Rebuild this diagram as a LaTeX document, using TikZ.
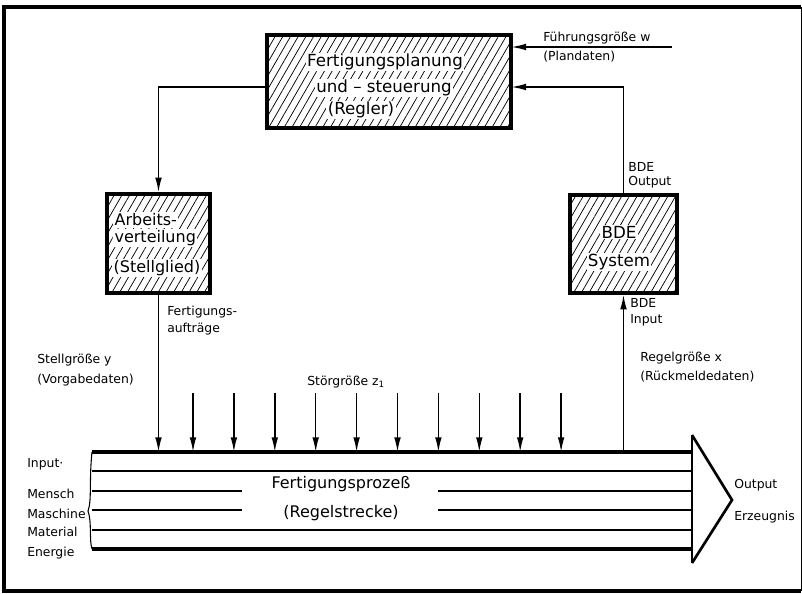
\documentclass[tikz,border=0pt]{standalone}
\usepackage{fontspec}
\setmainfont{DejaVu Sans}
\usetikzlibrary{arrows.meta,patterns.meta}

\begin{document}
\begin{tikzpicture}[x=0.75pt,y=-0.75pt,
  conn/.style={line width=1.1pt,-{Latex[length=11pt,width=5pt]}},
  hatchbox/.style={draw,line width=2.6pt,inner sep=0pt,
    pattern={Lines[angle=60,distance=5pt,line width=0.55pt]}},
  boxtext/.style={fill=white,inner sep=1pt,font=\fontsize{12.5}{14}\selectfont},
  lbl/.style={anchor=west,inner sep=0pt,font=\fontsize{9.3}{11}\selectfont},
  flow/.style={line width=0.8pt},
  rim/.style={line width=2.4pt}
]
  \useasboundingbox (0,0) rectangle (802,593);
  \draw[line width=3.2pt] (801,7) -- (4,7) -- (4,591) -- (801,591);
  \draw[line width=0.6pt] (801,7) -- (801,591);

  \node[hatchbox, minimum width=183pt, minimum height=69.75pt] (plan) at (389,81.5) {};
  \node[boxtext] (plan1) at (385,62) {Fertigungsplanung};
  \node[boxtext] (plan2) at (384,88) {und – steuerung};
  \node[boxtext] (plan3) at (361,110) {(Regler)};

  \node[hatchbox, minimum width=77.25pt, minimum height=74.25pt] (arbeit) at (158.5,243.5) {};
  \node[boxtext, anchor=west, font=\fontsize{12}{14}\selectfont] (arbeit1) at (113,220) {Arbeits-};
  \node[boxtext, anchor=west, font=\fontsize{12}{14}\selectfont] (arbeit2) at (113,238) {verteilung};
  \node[boxtext, anchor=west, font=\fontsize{12}{14}\selectfont] (arbeit3) at (112,268) {(Stellglied)};

  \node[hatchbox, minimum width=80.25pt, minimum height=73.5pt] (bde) at (623.5,244) {};
  \node[boxtext] (bde1) at (619,232) {BDE};
  \node[boxtext] (bde2) at (619,262) {System};

  % Fertigungsprozess
  \coordinate (ptop) at (92,452);
  \draw[rim] (ptop) -- (692,452);
  \draw[rim] (92,549) -- (692,549);
  \draw[flow] (92,471) -- (692,471);
  \draw[flow] (92,530) -- (692,530);
  \draw[flow] (92,491) -- (242,491) (438,491) -- (692,491);
  \draw[flow] (92,510) -- (242,510) (438,510) -- (692,510);
  \draw[flow] (ptop) .. controls (89,480) and (92,500) .. (88,511) .. controls (92,522) and (89,540) .. (92,549);
  \draw[flow] (692,435) -- (692,563);
  \draw[line width=2pt] (692,435) -- (732,500) -- (692,563);
  \node[font=\fontsize{12}{14}\selectfont] (proc1) at (341,484) {Fertigungsprozeß};
  \node[font=\fontsize{12}{14}\selectfont] (proc2) at (341,513) {(Regelstrecke)};

  % Verbindungen
  \coordinate (w) at (672,47);
  \coordinate (fb) at (624,87);
  \draw[conn] (w) -- (plan.east |- w);
  \draw[conn] (bde.north) |- (plan.east |- fb);
  \draw[conn] (plan.west |- fb) -| (arbeit.north);
  \draw[conn] (arbeit.south) -- (arbeit.south |- ptop);
  \draw[conn] (bde.south |- ptop) -- (bde.south);
  \foreach \i in {0,...,9}{
    \coordinate (z\i) at (193+40.9*\i,393);
    \draw[conn] (z\i) -- (z\i |- ptop);
  }

  \node[lbl] (wlbl) at (543,38) {Führungsgröße w};
  \node[lbl] (wlbl2) at (543,57) {(Plandaten)};
  \node[lbl] (bdeo1) at (628,167) {BDE};
  \node[lbl] (bdeo2) at (628,182) {Output};
  \node[lbl] (bdei1) at (630,303) {BDE};
  \node[lbl] (bdei2) at (630,320) {Input};
  \node[lbl] (auf1) at (167,312) {Fertigungs-};
  \node[lbl] (auf2) at (167,329) {aufträge};
  \node[lbl] (y1) at (37,360) {Stellgröße y};
  \node[lbl] (y2) at (37,380) {(Vorgabedaten)};
  \node[lbl] (zlbl) at (307,382) {Störgröße z\textsubscript{1}};
  \node[lbl] (x1) at (640,358) {Regelgröße x};
  \node[lbl] (x2) at (640,377) {(Rückmeldedaten)};
  \node[lbl] (in0) at (27,464) {Input·};
  \node[lbl] (in1) at (27,494) {Mensch};
  \node[lbl] (in2) at (27,514) {Maschine};
  \node[lbl] (in3) at (27,532) {Material};
  \node[lbl] (in4) at (27,553) {Energie};
  \node[lbl] (out1) at (734,485) {Output};
  \node[lbl] (out2) at (734,517) {Erzeugnis};
\end{tikzpicture}
\end{document}
